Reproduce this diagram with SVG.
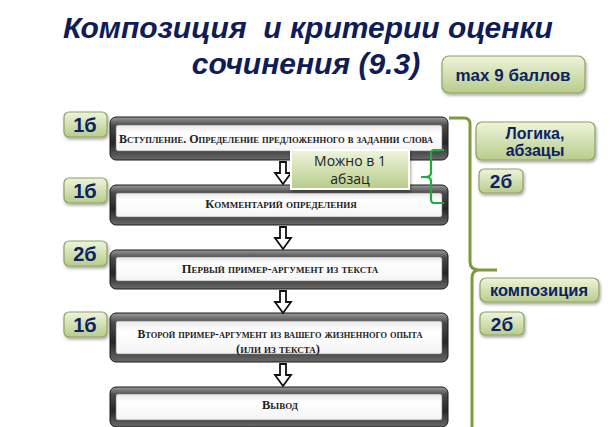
<svg xmlns="http://www.w3.org/2000/svg" width="615" height="427" viewBox="0 0 615 427">
<defs>
<linearGradient id="frame" x1="0" y1="0" x2="0" y2="1">
<stop offset="0" stop-color="#9a9a9a"/>
<stop offset="0.2" stop-color="#4a4a4a"/>
<stop offset="0.6" stop-color="#262626"/>
<stop offset="1" stop-color="#6a6a6a"/>
</linearGradient>
<linearGradient id="inner" x1="0" y1="0" x2="0" y2="1">
<stop offset="0" stop-color="#e8e8e8"/>
<stop offset="0.3" stop-color="#ffffff"/>
<stop offset="1" stop-color="#f4f4f4"/>
</linearGradient>
<linearGradient id="badge" x1="0" y1="0" x2="0" y2="1">
<stop offset="0" stop-color="#eef4dc"/>
<stop offset="1" stop-color="#b8cc8a"/>
</linearGradient>
<filter id="sh" x="-20%" y="-20%" width="140%" height="150%">
<feDropShadow dx="1" dy="2" stdDeviation="1.5" flood-color="#000" flood-opacity="0.35"/>
</filter>
</defs>
<style>
.title{font-family:"Liberation Sans",Arial,sans-serif;font-weight:bold;font-style:italic;font-size:30px;fill:#0f1c58;text-anchor:middle}
.frm{fill:url(#frame);stroke:#1a1a1a;stroke-width:1}
.in{fill:url(#inner);stroke:#777;stroke-width:0.6}
.bt{font-family:"Liberation Serif","Times New Roman",serif;font-weight:bold;font-variant:small-caps;font-size:12.5px;fill:#222;text-anchor:middle}
.bd{fill:url(#badge);stroke:#8ea262;stroke-width:1.2;filter:url(#sh)}
.bl{font-family:"Liberation Sans",Arial,sans-serif;font-weight:bold;fill:#0d2260;text-anchor:middle}
.arr{fill:#fff;stroke:#111;stroke-width:1.8;stroke-linejoin:miter}
.br1{fill:none;stroke:#7d9a3c;stroke-width:3}
.br2{fill:none;stroke:#1eae3c;stroke-width:2.2}
</style>
<rect width="615" height="427" fill="#fff"/>
<g id="title">
<text class="title" x="308" y="38" xml:space="preserve">Композиция  и критерии оценки</text>
<text class="title" x="306" y="74">сочинения (9.3)</text>
</g>
<g id="max">
<rect class="bd" x="442" y="56" width="143" height="37" rx="7"/>
<text class="bl" x="513" y="81" font-size="17">max 9 баллов</text>
</g>
<g id="box1">
<rect class="frm" x="110" y="117" width="338" height="43" rx="6"/>
<rect class="in" x="116" y="125" width="326" height="26" rx="2"/>
<text class="bt" x="276" y="143" textLength="314" lengthAdjust="spacingAndGlyphs">Вступление. Определение предложенного в задании слова</text>
</g>
<g id="box2">
<rect class="frm" x="110" y="185" width="338" height="40" rx="6"/>
<rect class="in" x="116" y="193" width="326" height="24" rx="2"/>
<text class="bt" x="281" y="208">Комментарий определения</text>
</g>
<g id="box3">
<rect class="frm" x="110" y="250" width="338" height="39" rx="6"/>
<rect class="in" x="116" y="257" width="326" height="24" rx="2"/>
<text class="bt" x="280" y="273">Первый пример-аргумент из текста</text>
</g>
<g id="box4">
<rect class="frm" x="110" y="313" width="338" height="49" rx="6"/>
<rect class="in" x="116" y="321" width="326" height="33" rx="2"/>
<text class="bt" x="280" y="338" textLength="285" lengthAdjust="spacingAndGlyphs">Второй пример-аргумент из вашего жизненного опыта</text>
<text class="bt" x="278" y="353">(или из текста)</text>
</g>
<g id="box5">
<rect class="frm" x="110" y="387" width="338" height="40" rx="6"/>
<rect class="in" x="116" y="394" width="326" height="26" rx="2"/>
<text class="bt" x="280" y="409">Вывод</text>
</g>
<g id="connectors">
<polygon class="arr" points="280,162 286,162 286,173 291,173 283,184 275,173 280,173"/>
<polygon class="arr" points="280,227 286,227 286,238 291,238 283,249 275,238 280,238"/>
<polygon class="arr" points="280,291 286,291 286,302 291,302 283,313 275,302 280,302"/>
<polygon class="arr" points="280,364 286,364 286,375 291,375 283,386 275,375 280,375"/>
<path class="br1" d="M449,118 L464,118 Q470,118 470,124 L470,262 Q470,269 478,270 L497,270 M478,270 Q472,271 472,278 L472,427"/>
<path class="br2" d="M444,150 L434,150 Q431,150 431,154 L431,173 Q431,177 425,177 L421,177 M425,177 Q431,177 431,181 L431,199 Q431,203 434,203 L444,203"/>
</g>
<g id="note">
<rect x="291" y="150" width="118" height="39" fill="url(#badge)" stroke="#fff" stroke-width="2" filter="url(#sh)"/>
<text x="350" y="166" font-family="'Open Sans','Liberation Sans',sans-serif" font-size="14" fill="#222" text-anchor="middle">Можно в 1</text>
<text x="350" y="184" font-family="'Open Sans','Liberation Sans',sans-serif" font-size="14" fill="#222" text-anchor="middle">абзац</text>
</g>
<g id="s1">
<rect class="bd" x="64" y="112" width="43" height="25" rx="5"/>
<text class="bl" x="85" y="132" font-size="20">1б</text>
</g>
<g id="s2">
<rect class="bd" x="64" y="178" width="43" height="25" rx="5"/>
<text class="bl" x="85" y="198" font-size="20">1б</text>
</g>
<g id="s3">
<rect class="bd" x="64" y="241" width="43" height="25" rx="5"/>
<text class="bl" x="85" y="261" font-size="20">2б</text>
</g>
<g id="s4">
<rect class="bd" x="64" y="312" width="43" height="25" rx="5"/>
<text class="bl" x="85" y="332" font-size="20">1б</text>
</g>
<g id="logic">
<rect class="bd" x="476" y="122" width="119" height="38" rx="6"/>
<text class="bl" x="535" y="139" font-size="16">Логика,</text>
<text class="bl" x="535" y="156" font-size="16">абзацы</text>
</g>
<g id="s5">
<rect class="bd" x="479" y="169" width="44" height="24" rx="5"/>
<text class="bl" x="501" y="188" font-size="19">2б</text>
</g>
<g id="comp">
<rect class="bd" x="480" y="278" width="119" height="24" rx="6"/>
<text class="bl" x="539" y="296" font-size="16.5">композиция</text>
</g>
<g id="s6">
<rect class="bd" x="480" y="312" width="44" height="23" rx="5"/>
<text class="bl" x="502" y="331" font-size="19">2б</text>
</g>
</svg>
